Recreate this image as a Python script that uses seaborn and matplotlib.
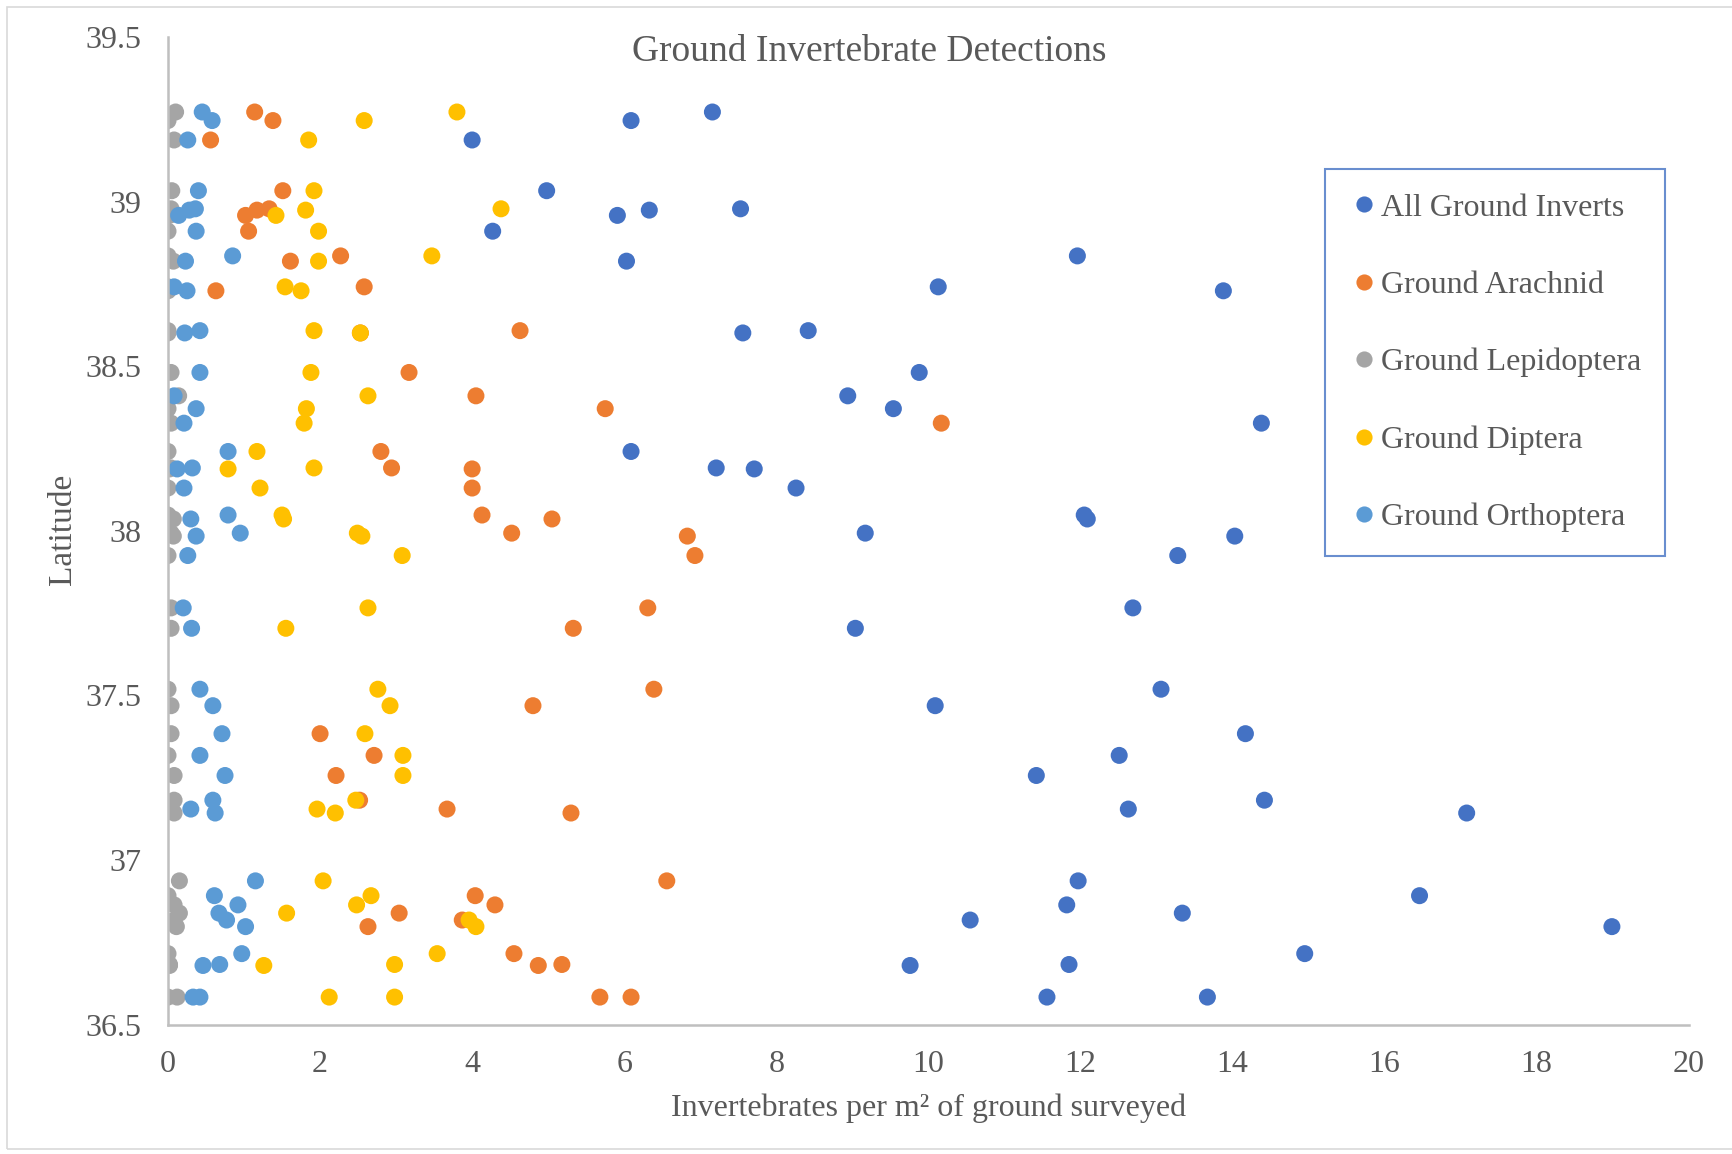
import matplotlib
matplotlib.use('Agg')
import matplotlib.pyplot as plt
import pandas as pd
import seaborn as sns
from matplotlib.patches import Rectangle

# Site latitudes (one per survey site)
latitude = [39.272, 39.246, 39.187, 39.033, 38.958, 38.974, 38.978, 38.910,
            38.835, 38.819, 38.741, 38.729, 38.601, 38.608, 38.481, 38.410,
            38.371, 38.327, 38.241, 38.191, 38.188, 38.130, 38.048, 38.036,
            37.993, 37.984, 37.925, 37.766, 37.704, 37.519, 37.469, 37.384,
            37.318, 37.257, 37.182, 37.155, 37.143, 36.937, 36.892, 36.864,
            36.839, 36.818, 36.798, 36.716, 36.680, 36.683, 36.584, 36.584]

# Invertebrates per m2 for each series, same site order as latitude
all_inverts = [7.16, 6.09, 4.00, 4.98, 5.91, 6.33, 7.53, 4.27,
               11.96, 6.03, 10.13, 13.88, 7.56, 8.42, 9.88, 8.94,
               9.54, 14.38, 6.09, 7.21, 7.71, 8.26, 12.05, 12.09,
               9.17, 14.03, 13.28, 12.69, 9.04, 13.06, 10.09, 14.17,
               12.51, 11.42, 14.42, 12.63, 17.08, 11.97, 16.46, 11.82,
               13.34, 10.55, 18.99, 14.95, 9.76, 11.85, 11.56, 13.67]
arachnid = [1.14, 1.38, 0.56, 1.51, 1.02, 1.17, 1.33, 1.06,
            2.27, 1.61, 2.58, 0.63, 2.53, 4.63, 3.17, 4.05,
            5.75, 10.17, 2.80, 2.94, 4.00, 4.00, 4.13, 5.05,
            4.52, 6.83, 6.93, 6.31, 5.33, 6.39, 4.80, 2.00,
            2.71, 2.21, 2.52, 3.67, 5.30, 6.56, 4.04, 4.30,
            3.04, 3.87, 2.63, 4.55, 4.87, 5.18, 5.68, 6.09]
lepidoptera = [0.10, 0.00, 0.08, 0.05, 0.02, 0.04, 0.04, 0.00,
               0.00, 0.07, 0.00, 0.00, 0.00, 0.00, 0.04, 0.14,
               0.00, 0.04, 0.00, 0.04, 0.02, 0.00, 0.00, 0.07,
               0.04, 0.07, 0.00, 0.04, 0.04, 0.00, 0.04, 0.04,
               0.00, 0.08, 0.08, 0.04, 0.08, 0.15, 0.00, 0.08,
               0.15, 0.08, 0.11, 0.00, 0.02, 0.02, 0.00, 0.12]
diptera = [3.80, 2.58, 1.85, 1.92, 1.42, 1.81, 4.38, 1.98,
           3.47, 1.98, 1.54, 1.75, 2.53, 1.92, 1.88, 2.63,
           1.82, 1.79, 1.17, 1.92, 0.79, 1.21, 1.50, 1.52,
           2.49, 2.55, 3.08, 2.63, 1.55, 2.76, 2.92, 2.59,
           3.09, 3.09, 2.47, 1.96, 2.20, 2.04, 2.67, 2.48,
           1.56, 3.96, 4.05, 3.54, 1.26, 2.98, 2.12, 2.98]
orthoptera = [0.45, 0.58, 0.26, 0.40, 0.14, 0.28, 0.36, 0.37,
              0.85, 0.23, 0.08, 0.25, 0.22, 0.42, 0.42, 0.08,
              0.37, 0.21, 0.79, 0.32, 0.12, 0.21, 0.79, 0.30,
              0.95, 0.37, 0.26, 0.20, 0.31, 0.42, 0.59, 0.71,
              0.42, 0.75, 0.59, 0.30, 0.62, 1.15, 0.61, 0.92,
              0.67, 0.77, 1.02, 0.97, 0.46, 0.68, 0.33, 0.42]

series_names = ['All Ground Inverts', 'Ground Arachnid', 'Ground Lepidoptera',
                'Ground Diptera', 'Ground Orthoptera']
series_colors = ['#4472C4', '#ED7D31', '#A5A5A5', '#FFC000', '#5B9BD5']

x_ticks = [0, 2, 4, 6, 8, 10, 12, 14, 16, 18, 20]
y_ticks = [36.5, 37, 37.5, 38, 38.5, 39, 39.5]
y_tick_labels = ['36.5', '37', '37.5', '38', '38.5', '39', '39.5']

# Long-form table
frames = []
for name, vals in zip(series_names, [all_inverts, arachnid, lepidoptera, diptera, orthoptera]):
    frames.append(pd.DataFrame({'value': vals, 'lat': latitude, 'series': name}))
df = pd.concat(frames, ignore_index=True)

sns.set_style('white')
plt.rcParams['font.family'] = ['Liberation Serif', 'DejaVu Serif']
text_color = '#595959'

fig = plt.figure(figsize=(17.32, 11.54), dpi=100)
ax = fig.add_axes([0.0970, 0.112, 0.878, 0.856])

sns.scatterplot(data=df, x='value', y='lat', hue='series', hue_order=series_names,
                palette=series_colors, s=150, linewidth=0, alpha=1, ax=ax)

ax.set_xlim(0, 20)
ax.set_ylim(36.5, 39.5)
ax.set_xticks(x_ticks)
ax.set_xticklabels([str(t) for t in x_ticks])
ax.set_yticks(y_ticks)
ax.set_yticklabels(y_tick_labels)
ax.tick_params(axis='both', length=0, labelsize=23, labelcolor=text_color)
ax.tick_params(axis='x', pad=18)
ax.tick_params(axis='y', pad=19)
ax.set_xlabel('')
ax.set_ylabel('')

for side in ['top', 'right']:
    ax.spines[side].set_visible(False)
for side in ['left', 'bottom']:
    ax.spines[side].set_color('#BFBFBF')
    ax.spines[side].set_linewidth(1.8)

fig.text(0.502, 0.955, 'Ground Invertebrate Detections', ha='center', va='center',
         fontsize=27, color=text_color)
fig.text(0.536, 0.040, 'Invertebrates per m\u00b2 of ground surveyed', ha='center',
         va='center', fontsize=23, color=text_color)
fig.text(0.036, 0.541, 'Latitude', ha='center', va='center', rotation=90,
         fontsize=24, color=text_color)

sns.move_legend(ax, 'upper left', bbox_to_anchor=(0.761, 0.866), borderaxespad=0,
                title=None, frameon=True, fancybox=False, fontsize=23,
                labelspacing=1.5, handletextpad=0.1, handlelength=0.9,
                borderpad=0.75, markerscale=0.95)
leg = ax.get_legend()
leg.get_frame().set_edgecolor('#4472C4')
leg.get_frame().set_linewidth(1.5)
for t in leg.get_texts():
    t.set_color(text_color)

# outer chart border
fig.patches.append(Rectangle((0.004, 0.004), 1.2, 0.99, transform=fig.transFigure,
                             fill=False, edgecolor='#D9D9D9', linewidth=1.2))

fig.savefig('out.png', dpi=100)
